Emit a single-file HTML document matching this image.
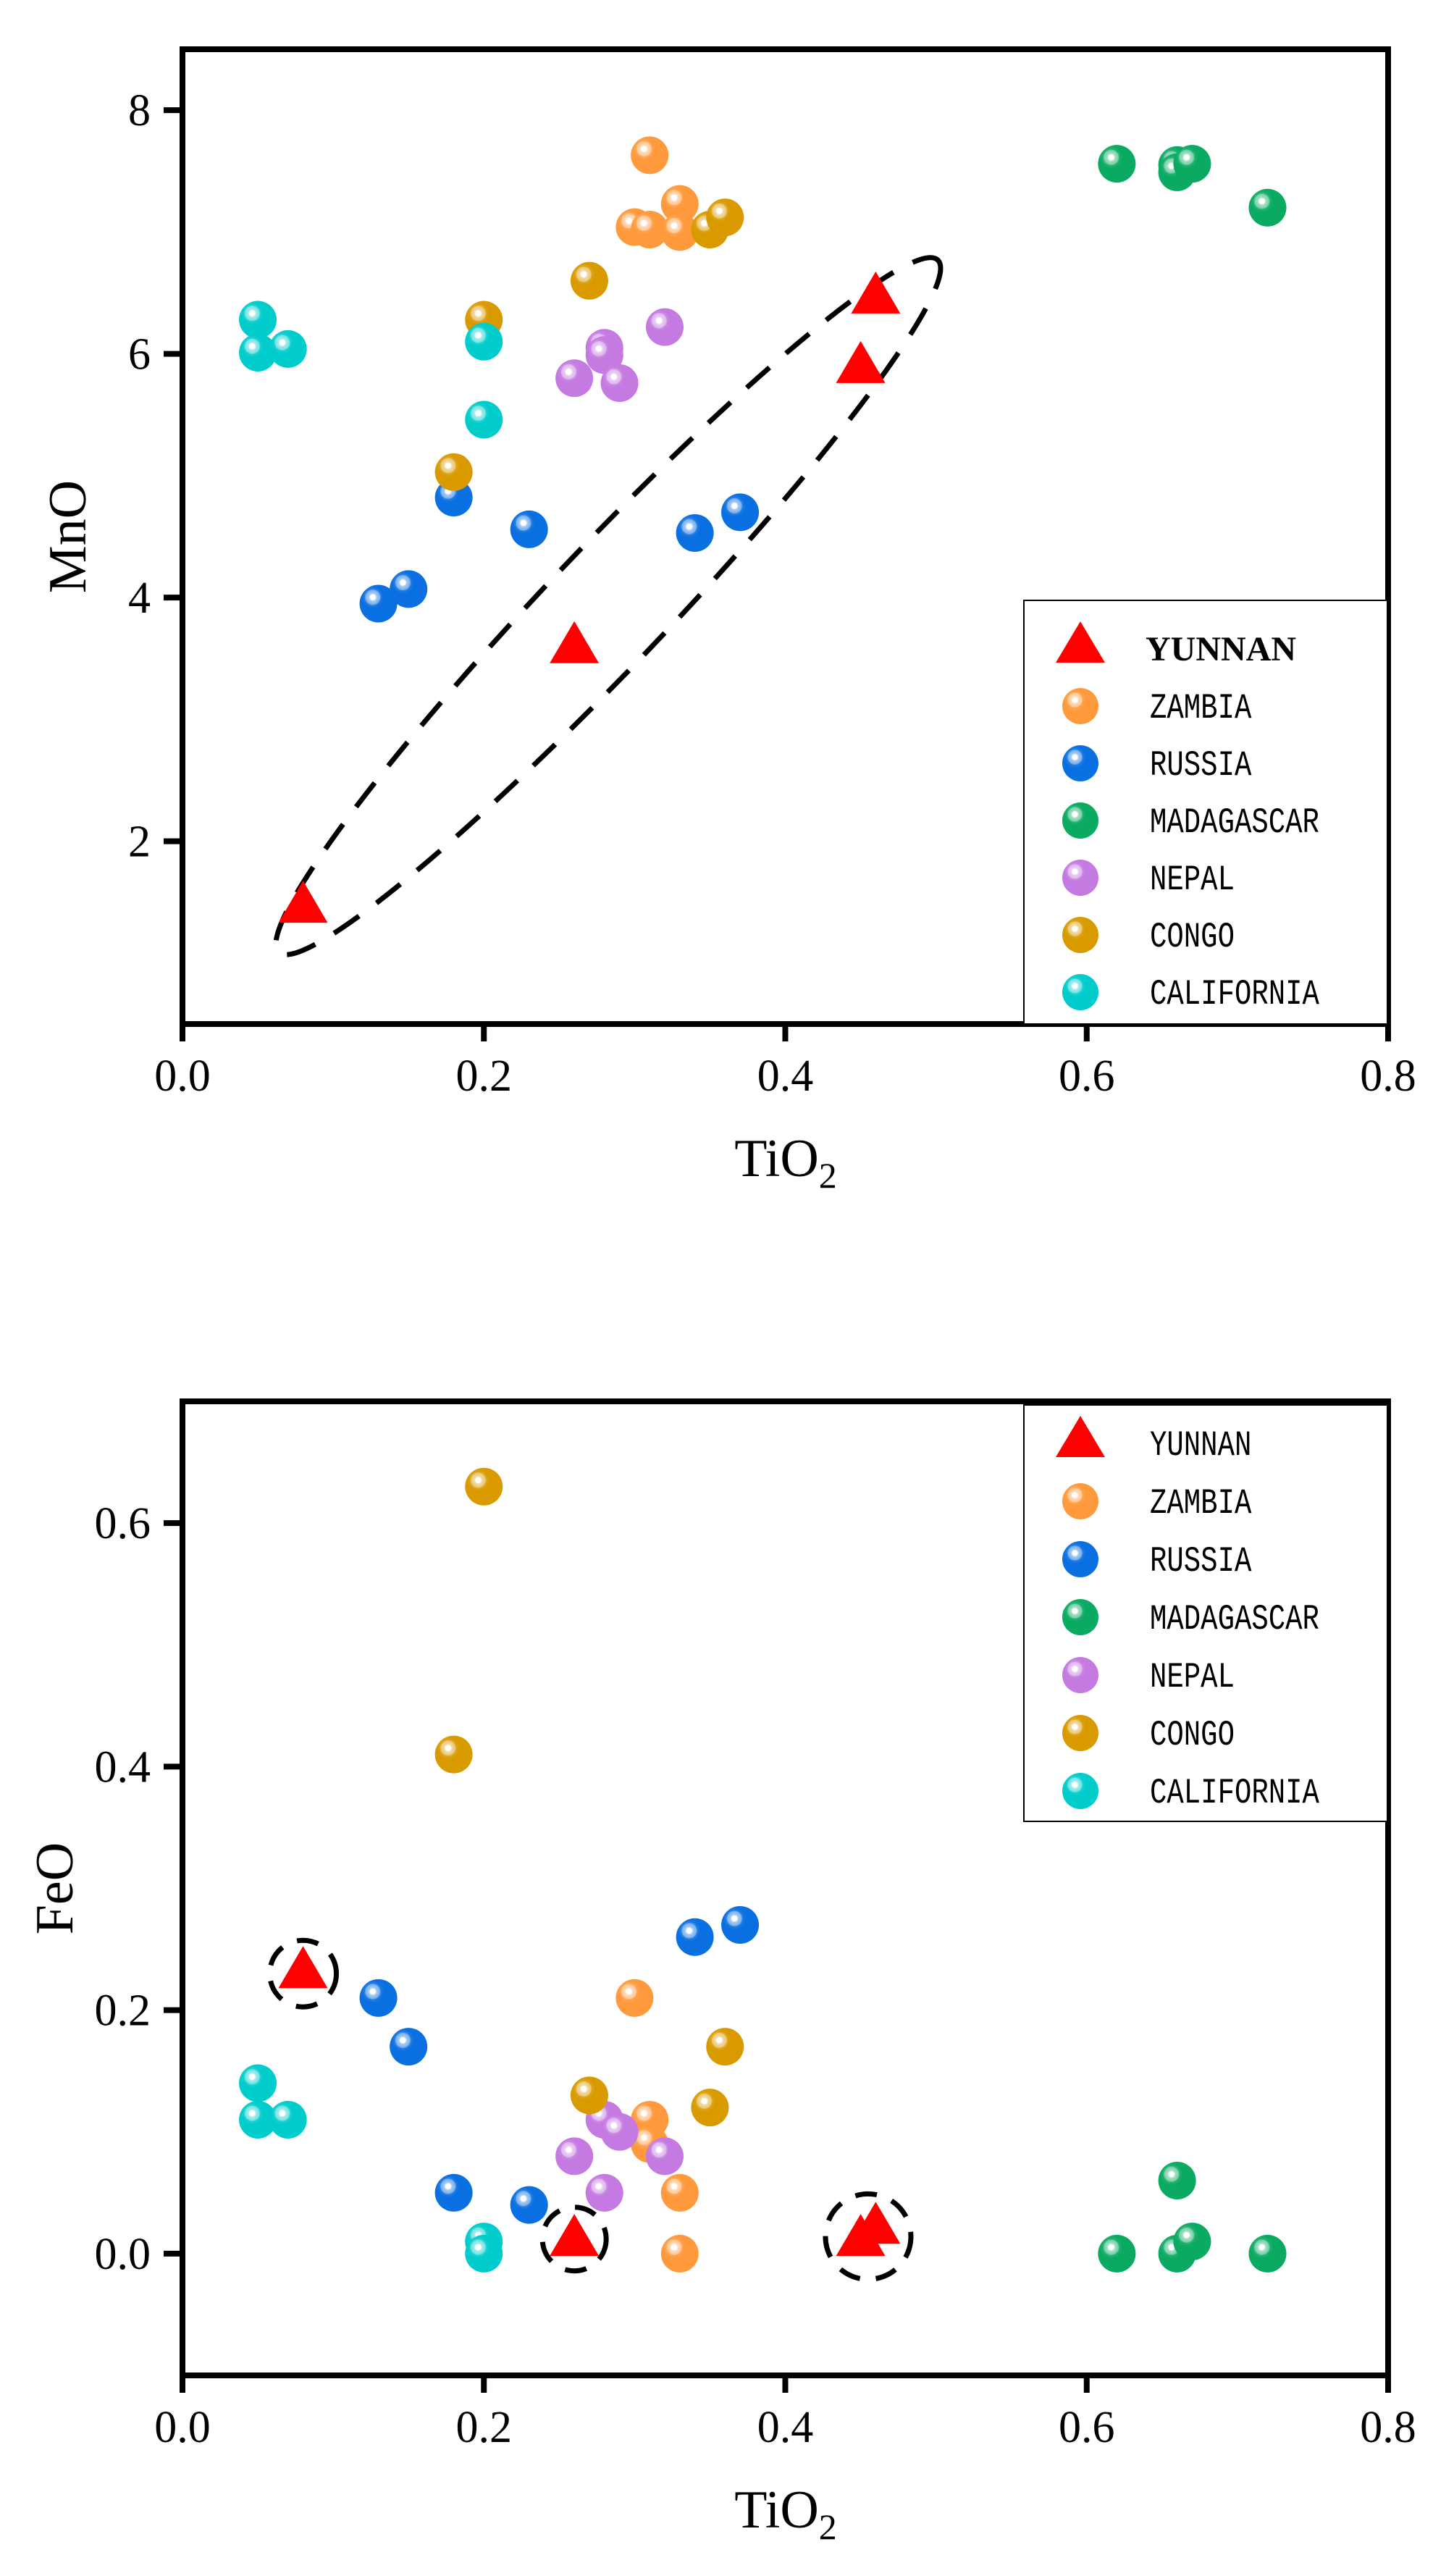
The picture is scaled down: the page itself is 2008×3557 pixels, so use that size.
<!DOCTYPE html>
<html><head><meta charset="utf-8"><style>
html,body{margin:0;padding:0;background:#fff;}
svg{display:block;}
</style></head><body>
<svg id="root" width="2008" height="3557" viewBox="0 0 2008 3557" xmlns="http://www.w3.org/2000/svg">
<defs id="defs"></defs>
</svg>
<script>
const NS='http://www.w3.org/2000/svg';
const seriesNames=['YUNNAN','ZAMBIA','RUSSIA','MADAGASCAR','NEPAL','CONGO','CALIFORNIA'];
const seriesColors=['#ff0000','#ff9a3c','#0a6fe0','#0aaa62','#c47ae0','#d99a00','#00cccc'];
// Top chart: TiO2 vs MnO
const mnoTiYunnan=[0.08,0.26,0.45,0.46];
const mnoYunnan=[1.45,3.58,5.88,6.45];
const mnoTiZambia=[0.31,0.33,0.30,0.31,0.33];
const mnoZambia=[7.63,7.23,7.04,7.02,7.00];
const mnoTiRussia=[0.13,0.15,0.18,0.23,0.34,0.37];
const mnoRussia=[3.95,4.07,4.82,4.56,4.53,4.70];
const mnoTiMada=[0.62,0.66,0.66,0.67,0.72];
const mnoMada=[7.56,7.55,7.49,7.56,7.20];
const mnoTiNepal=[0.26,0.28,0.28,0.29,0.32];
const mnoNepal=[5.80,6.05,5.99,5.76,6.22];
const mnoTiCongo=[0.18,0.20,0.27,0.35,0.36];
const mnoCongo=[5.03,6.28,6.60,7.02,7.12];
const mnoTiCali=[0.05,0.05,0.07,0.20,0.20];
const mnoCali=[6.28,6.01,6.04,6.10,5.46];
// Bottom chart: TiO2 vs FeO
const feoTiYunnan=[0.08,0.26,0.45,0.46];
const feoYunnan=[0.23,0.01,0.01,0.02];
const feoTiZambia=[0.30,0.31,0.31,0.33,0.33];
const feoZambia=[0.21,0.11,0.09,0.05,0.00];
const feoTiRussia=[0.13,0.15,0.18,0.23,0.34,0.37];
const feoRussia=[0.21,0.17,0.05,0.04,0.26,0.27];
const feoTiMada=[0.62,0.66,0.66,0.67,0.72];
const feoMada=[0.00,0.00,0.06,0.01,0.00];
const feoTiNepal=[0.26,0.28,0.29,0.28,0.32];
const feoNepal=[0.08,0.11,0.10,0.05,0.08];
const feoTiCongo=[0.18,0.20,0.27,0.35,0.36];
const feoCongo=[0.41,0.63,0.13,0.12,0.17];
const feoTiCali=[0.05,0.05,0.07,0.20,0.20];
const feoCali=[0.14,0.11,0.11,0.01,0.00];
const xTicks=['0.0','0.2','0.4','0.6','0.8'];
const mnoTicks=['2','4','6','8'];
const feoTicks=['0.0','0.2','0.4','0.6'];

const root=document.getElementById('root');
const defs=document.getElementById('defs');
function mk(tag,attrs,parent){const e=document.createElementNS(NS,tag);for(const k in attrs)e.setAttribute(k,attrs[k]);(parent||root).appendChild(e);return e;}
function lighten(hex,f){const n=parseInt(hex.slice(1),16);let r=n>>16,g=(n>>8)&255,b=n&255;r=Math.round(r+(255-r)*f);g=Math.round(g+(255-g)*f);b=Math.round(b+(255-b)*f);return `rgb(${r},${g},${b})`;}
seriesColors.forEach((c,i)=>{
  const g=mk('radialGradient',{id:'g'+i,cx:'0.35',cy:'0.33',r:'0.7',fx:'0.35',fy:'0.33'},defs);
  mk('stop',{offset:'0',  'stop-color':'#ffffff'},g);
  mk('stop',{offset:'0.1','stop-color':'#ffffff'},g);
  mk('stop',{offset:'0.14','stop-color':lighten(c,0.65)},g);
  mk('stop',{offset:'0.27','stop-color':lighten(c,0.45)},g);
  mk('stop',{offset:'0.31','stop-color':lighten(c,0.1)},g);
  mk('stop',{offset:'0.42','stop-color':c},g);
  mk('stop',{offset:'1','stop-color':c},g);
});
const X0=252,X1=1917;
function xs(v){return X0+(v-0)/(0.8)*(X1-X0);}
function sphere(g,x,y,i,name){const c=mk('circle',{cx:x,cy:y,r:26,fill:'url(#g'+i+')'},g);
  
  return c;}
function tri(g,x,y,name){const p=mk('polygon',{points:`${x},${y-38} ${x-34},${y+20} ${x+34},${y+20}`,fill:'#ff0000'},g);
  
  return p;}

function chart(cfg){
  const g=mk('g',{});
  
  
  const ys=v=>cfg.yTop+(cfg.ymax-v)/(cfg.ymax-cfg.ymin)*(cfg.yBot-cfg.yTop);
  xTicks.forEach(t=>{const x=xs(parseFloat(t));
    mk('line',{x1:x,y1:cfg.yBot,x2:x,y2:cfg.yBot+24,stroke:'#000','stroke-width':8},g);
    const tx=mk('text',{x:x,y:cfg.yBot+92,'text-anchor':'middle','font-family':'Liberation Serif, serif','font-size':62,fill:'#000'},g);tx.textContent=t;
    
    
  });
  cfg.ticks.forEach(t=>{const y=ys(parseFloat(t));
    mk('line',{x1:X0-26,y1:y,x2:X0,y2:y,stroke:'#000','stroke-width':8},g);
    const tx=mk('text',{x:X0-44,y:y+21,'text-anchor':'end','font-family':'Liberation Serif, serif','font-size':62,fill:'#000'},g);tx.textContent=t;
    
    
  });
  const xt=mk('text',{x:1085,y:cfg.yBot+210,'text-anchor':'middle','font-family':'Liberation Serif, serif','font-size':74,fill:'#000'},g);
  xt.innerHTML='TiO<tspan font-size="50" dy="16">2</tspan>';
  
  
  const yc=(cfg.yTop+cfg.yBot)/2;
  const yt=mk('text',{x:0,y:0,transform:`translate(${cfg.ytx},${yc}) rotate(-90)`,'text-anchor':'middle','font-family':'Liberation Serif, serif','font-size':74,fill:'#000'},g);
  yt.textContent=cfg.ytitle;
  
  
  cfg.annot(g,ys);
  cfg.data.forEach((s,i)=>{
    s[0].forEach((tv,k)=>{const x=xs(tv),y=ys(s[1][k]);
      if(i===0) tri(g,x,y,'point-yunnan'); else sphere(g,x,y,i,'point-'+seriesNames[i].toLowerCase());});
  });
  const fr=mk('rect',{x:X0,y:cfg.yTop,width:X1-X0,height:cfg.yBot-cfg.yTop,fill:'none',stroke:'#000','stroke-width':8},g);
  
  
  const lg=mk('g',{},g);
  
  
  mk('rect',{x:1414,y:cfg.lgTop,width:1916-1414,height:cfg.lgBot-cfg.lgTop,fill:'#fff',stroke:'#000','stroke-width':2},lg);
  seriesNames.forEach((n,i)=>{
    const y=cfg.lgY0+i*cfg.lgStep;
    const e=mk('g',{},lg);
    
    
    if(i===0){mk('polygon',{points:`1492,${y-38} 1458,${y+19} 1526,${y+19}`,fill:'#ff0000'},e);}
    else mk('circle',{cx:1492,cy:y,r:25,fill:'url(#g'+i+')'},e);
    let t;
    if(i===0&&cfg.boldFirst){
      t=mk('text',{x:1582,y:y+16,'font-family':'Liberation Serif, serif','font-weight':'bold','font-size':48,fill:'#000'},e);
    } else {
      t=mk('text',{x:0,y:0,transform:`translate(1588,${y+16}) scale(1,1.25)`,'font-family':'Liberation Mono, monospace','font-size':39,fill:'#000'},e);
    }
    t.textContent=n;
  });
}

chart({name:'mno-vs-tio2-chart',yTop:68,yBot:1414,ymin:0.5,ymax:8.5,ticks:mnoTicks,ytitle:'MnO',ytx:118,
  boldFirst:true,lgTop:829,lgBot:1414,lgY0:896,lgStep:79,
  data:[[mnoTiYunnan,mnoYunnan],[mnoTiZambia,mnoZambia],[mnoTiRussia,mnoRussia],[mnoTiMada,mnoMada],[mnoTiNepal,mnoNepal],[mnoTiCongo,mnoCongo],[mnoTiCali,mnoCali]],
  annot:(g,ys)=>{const e=mk('ellipse',{cx:840,cy:837,rx:660,ry:82,transform:'rotate(-46.4 840 837)',fill:'none',stroke:'#000','stroke-width':7,'stroke-dasharray':'42 30'},g);
    
    }
});
chart({name:'feo-vs-tio2-chart',yTop:1935,yBot:3280,ymin:-0.1,ymax:0.7,ticks:feoTicks,ytitle:'FeO',ytx:100,
  boldFirst:false,lgTop:1940,lgBot:2515,lgY0:1993,lgStep:80,
  data:[[feoTiYunnan,feoYunnan],[feoTiZambia,feoZambia],[feoTiRussia,feoRussia],[feoTiMada,feoMada],[feoTiNepal,feoNepal],[feoTiCongo,feoCongo],[feoTiCali,feoCali]],
  annot:(g,ys)=>{
    [[0.08,0.23,46],[0.26,0.012,44],[0.455,0.014,59]].forEach(c=>{
      const e=mk('circle',{cx:xs(c[0]),cy:ys(c[1]),r:c[2],fill:'none',stroke:'#000','stroke-width':7,'stroke-dasharray':'30 22'},g);
      
      
    });}
});
</script>
</body></html>
